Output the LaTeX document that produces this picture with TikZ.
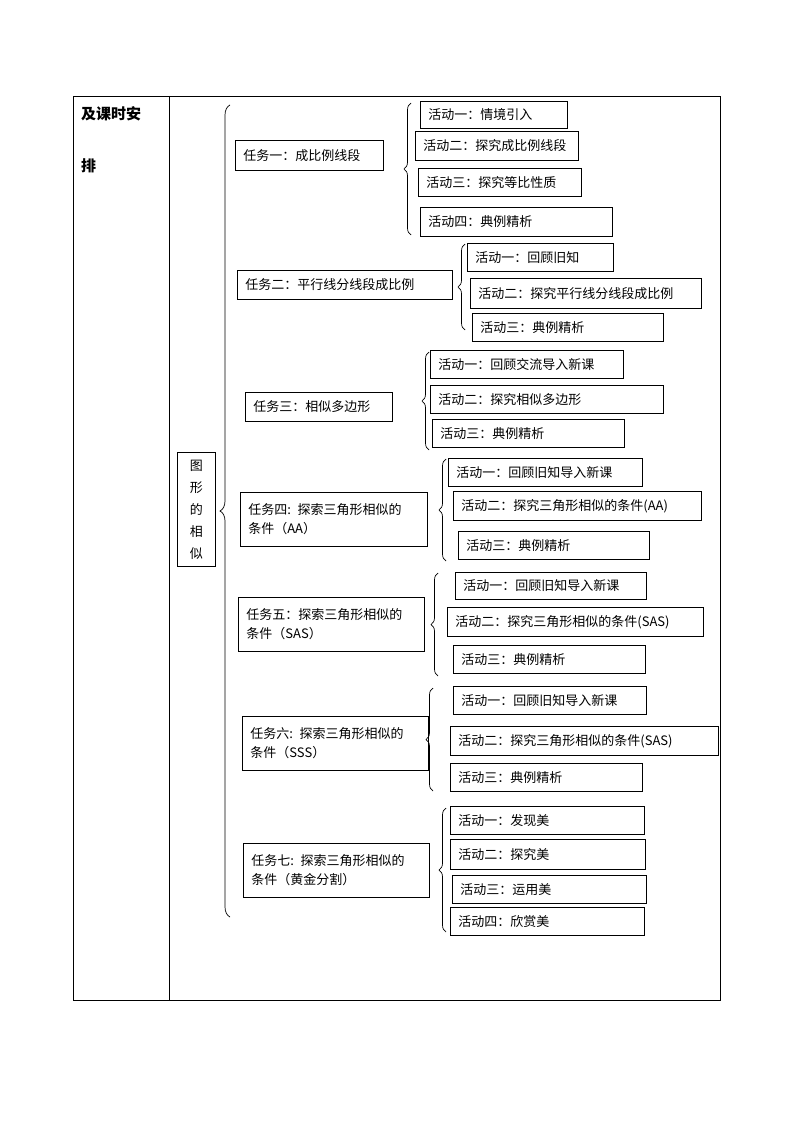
\documentclass[tikz,border=0pt]{standalone}
\usepackage{fontspec}
\setmainfont{Noto Sans CJK SC}
\usetikzlibrary{decorations.pathreplacing, positioning}
\tikzset{
  box/.style={draw, line width=0.8pt, anchor=north west, align=left, inner xsep=8pt, inner ysep=0pt, font=\fontsize{13}{19}\selectfont},
  brc/.style={draw, line width=0.7pt, decorate, decoration={brace, amplitude=7pt}}
}
\begin{document}
\begin{tikzpicture}[x=1pt, y=-1pt]
  \useasboundingbox (0,0) rectangle (794,1123);
  % table
  \draw[line width=0.8pt] (73,96) rectangle (720,1000);
  \draw[line width=0.8pt] (169,96) -- (169,1000);
  \node[anchor=north west, font=\fontsize{15}{40}\selectfont\bfseries, align=left, inner sep=0pt] (head) at (81,106) {及课时安\\[12pt]排};
  % topic
  \node[draw, line width=0.8pt, minimum width=38pt, minimum height=114pt, anchor=north west, align=center, font=\fontsize{13}{22}\selectfont] (topic) at (177,452) {图\\形\\的\\相\\似};
  % main brace
  \coordinate (m1) at (230,917);
  \coordinate (m2) at (230,105);
  \draw[brc, decoration={amplitude=10pt}] (m1) -- (m2);

  % tasks
  \node[box, text width=132pt, minimum height=30pt] (t1) at (235,140) {任务一：成比例线段};
  \node[box, text width=199pt, minimum height=29pt] (t2) at (237,270) {任务二：平行线分线段成比例};
  \node[box, text width=131pt, minimum height=29pt] (t3) at (245,392) {任务三：相似多边形};
  \node[box, text width=171pt, minimum height=54pt] (t4) at (240,492) {任务四: 探索三角形相似的\\条件（AA）};
  \node[box, text width=170pt, minimum height=54pt] (t5) at (238,597) {任务五：探索三角形相似的\\条件（SAS）};
  \node[box, text width=170pt, minimum height=54pt] (t6) at (242,716) {任务六: 探索三角形相似的\\条件（SSS）};
  \node[box, text width=170pt, minimum height=54pt] (t7) at (243,843) {任务七: 探索三角形相似的\\条件（黄金分割）};

  % activities of task one
  \node[box, text width=131pt, minimum height=27pt] (a11) at (420,101) {活动一：情境引入};
  \node[box, text width=147pt, minimum height=29pt] (a12) at (415,131) {活动二：探究成比例线段};
  \node[box, text width=147pt, minimum height=28pt] (a13) at (418,168) {活动三：探究等比性质};
  \node[box, text width=176pt, minimum height=29pt] (a14) at (420,207) {活动四：典例精析};
  \draw[brc] (411,235) -- (411,103);

  % activities of task two
  \node[box, text width=130pt, minimum height=28pt] (a21) at (467,243) {活动一：回顾旧知};
  \node[box, text width=215pt, minimum height=30pt] (a22) at (470,278) {活动二：探究平行线分线段成比例};
  \node[box, text width=175pt, minimum height=28pt] (a23) at (472,313) {活动三：典例精析};
  \draw[brc] (465,330) -- (465,244);

  % activities of task three
  \node[box, text width=177pt, minimum height=28pt] (a31) at (430,350) {活动一：回顾交流导入新课};
  \node[box, text width=217pt, minimum height=28pt] (a32) at (430,385) {活动二：探究相似多边形};
  \node[box, text width=176pt, minimum height=28pt] (a33) at (432,419) {活动三：典例精析};
  \draw[brc] (429,450) -- (429,352);

  % activities of task four
  \node[box, text width=178pt, minimum height=28pt] (a41) at (448,458) {活动一：回顾旧知导入新课};
  \node[box, text width=232pt, minimum height=29pt] (a42) at (453,491) {活动二：探究三角形相似的条件(AA)};
  \node[box, text width=175pt, minimum height=28pt] (a43) at (458,531) {活动三：典例精析};
  \draw[brc] (446,561) -- (446,459);

  % activities of task five
  \node[box, text width=175pt, minimum height=27pt] (a51) at (455,572) {活动一：回顾旧知导入新课};
  \node[box, text width=240pt, minimum height=29pt] (a52) at (447,607) {活动二：探究三角形相似的条件(SAS)};
  \node[box, text width=176pt, minimum height=28pt] (a53) at (453,645) {活动三：典例精析};
  \draw[brc] (438,676) -- (438,573);

  % activities of task six
  \node[box, text width=177pt, minimum height=28pt] (a61) at (453,686) {活动一：回顾旧知导入新课};
  \node[box, text width=252pt, minimum height=29pt] (a62) at (450,726) {活动二：探究三角形相似的条件(SAS)};
  \node[box, text width=176pt, minimum height=28pt] (a63) at (450,763) {活动三：典例精析};
  \draw[brc] (433,791) -- (433,688);

  % activities of task seven
  \node[box, text width=178pt, minimum height=28pt] (a71) at (450,806) {活动一：发现美};
  \node[box, text width=179pt, minimum height=30pt] (a72) at (450,839) {活动二：探究美};
  \node[box, text width=178pt, minimum height=28pt] (a73) at (452,875) {活动三：运用美};
  \node[box, text width=178pt, minimum height=28pt] (a74) at (450,907) {活动四：欣赏美};
  \draw[brc] (446,932) -- (446,808);
\end{tikzpicture}
\end{document}
